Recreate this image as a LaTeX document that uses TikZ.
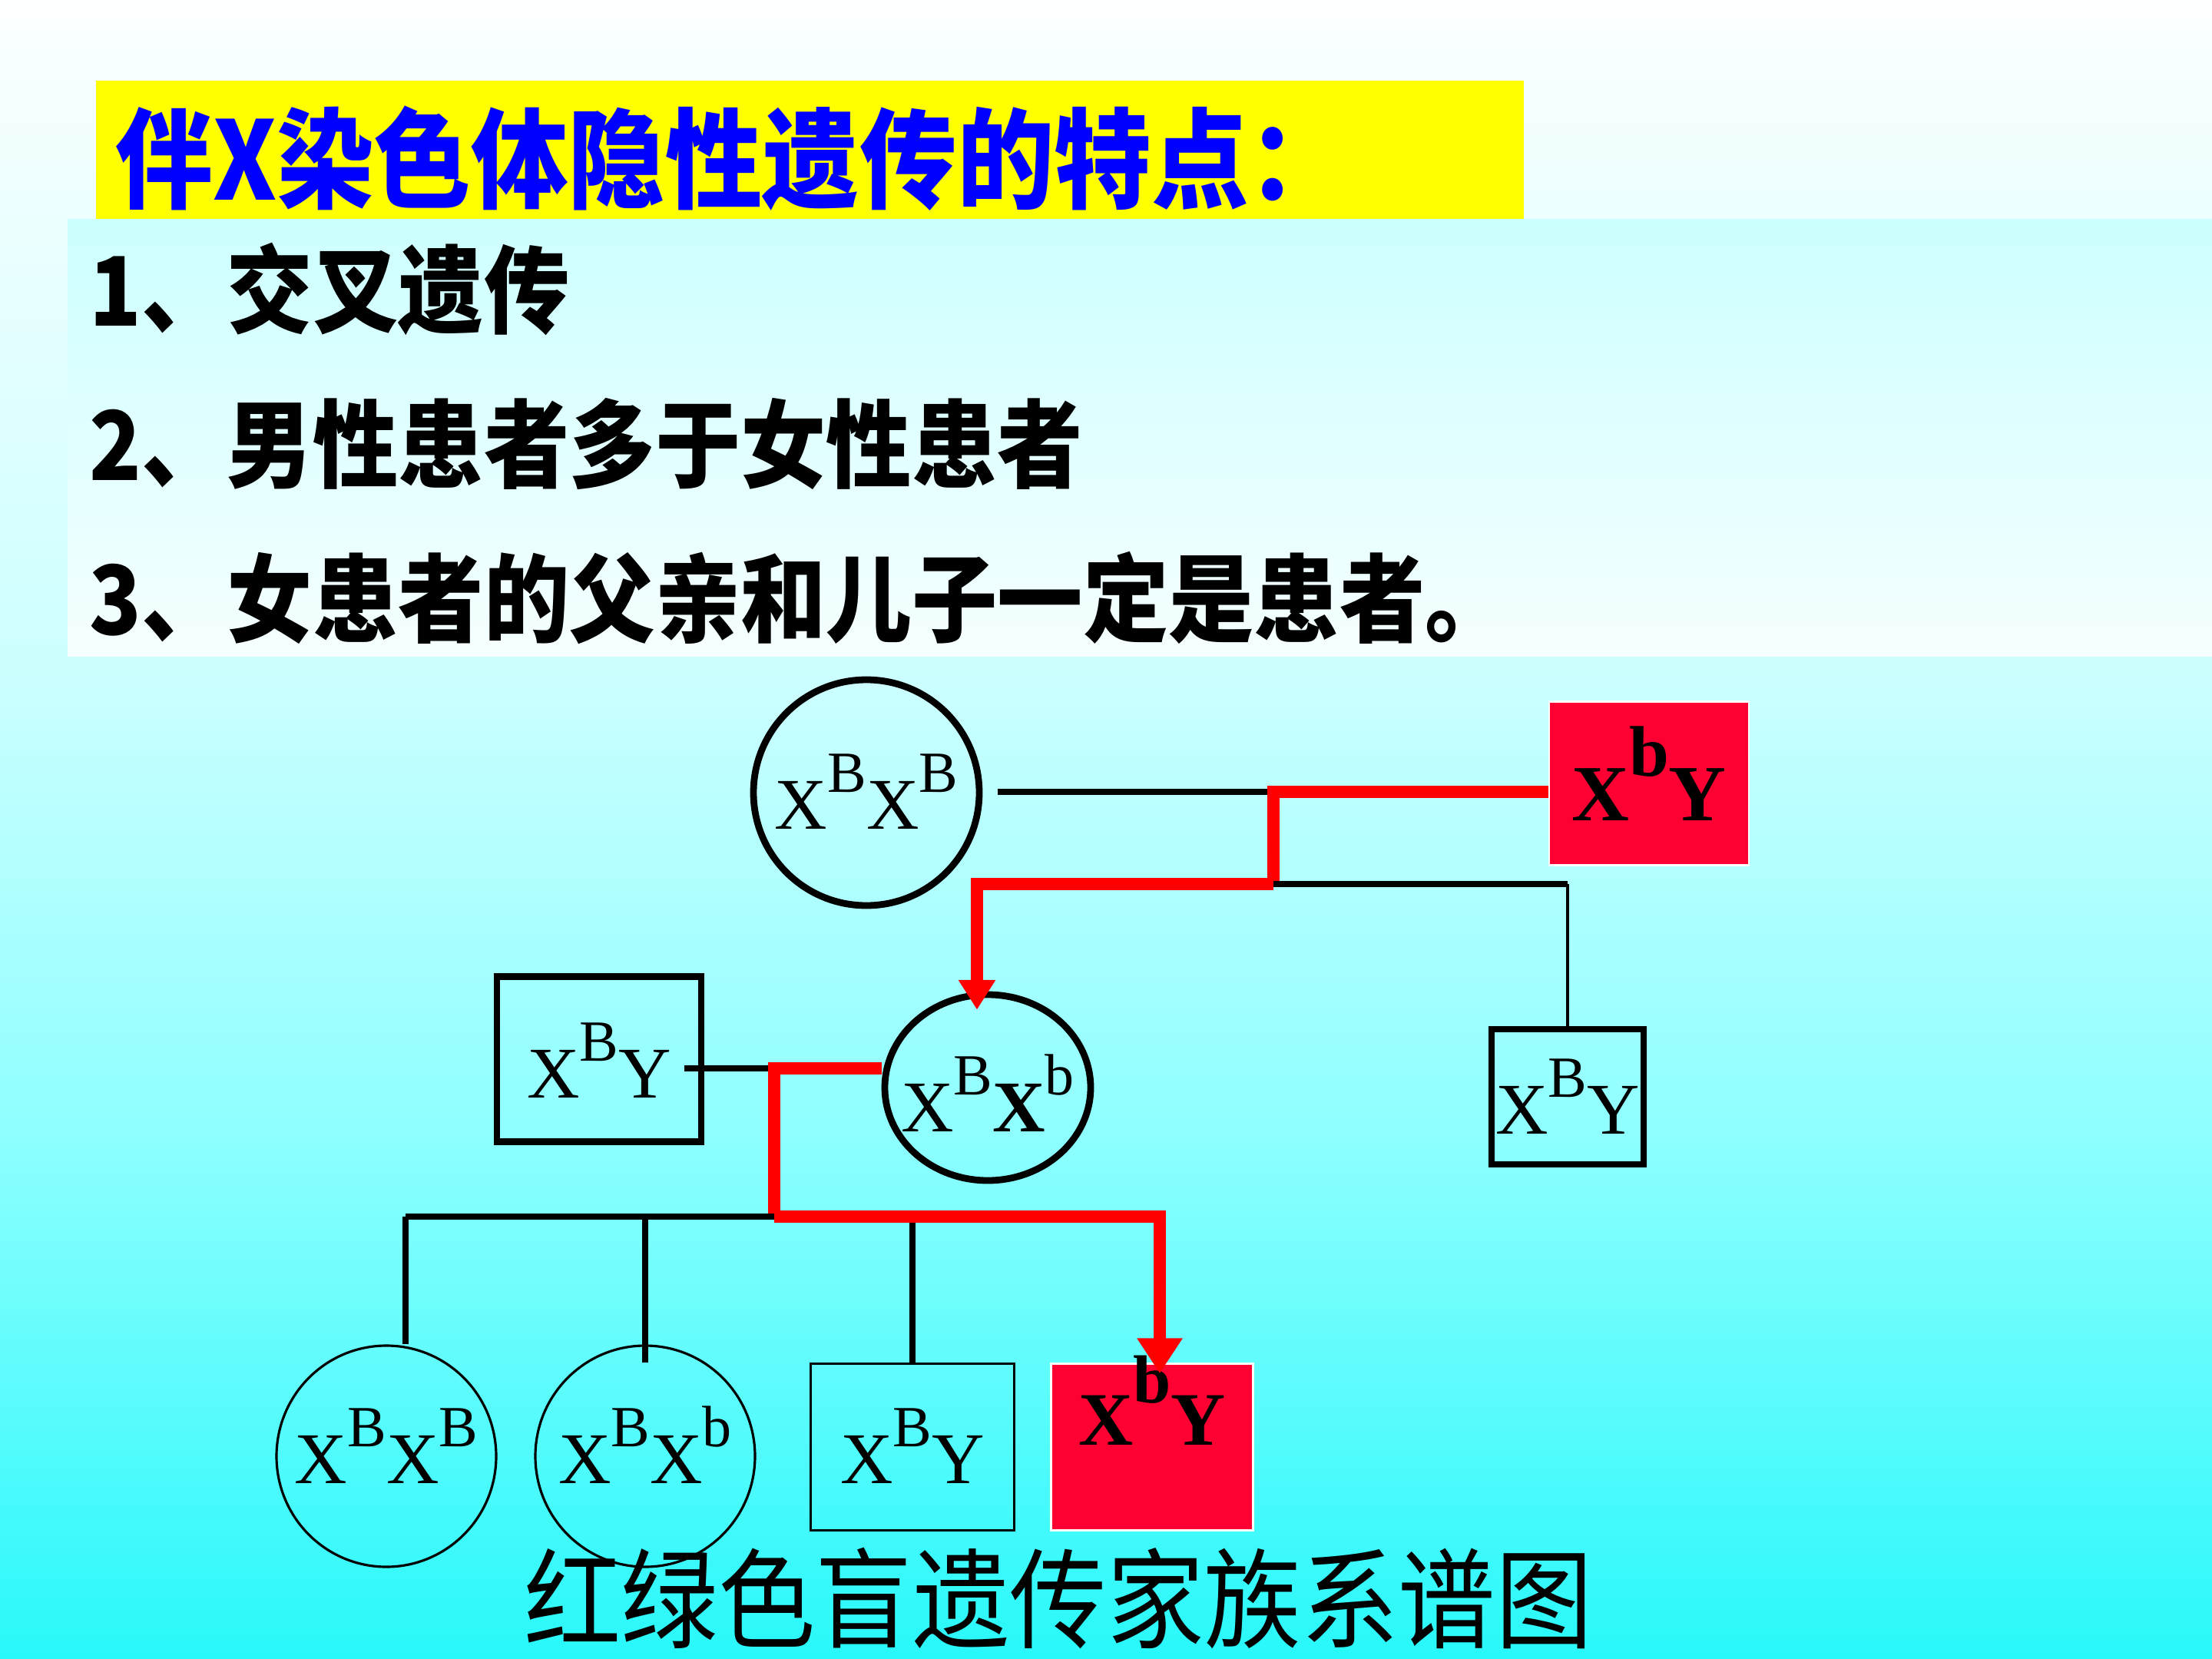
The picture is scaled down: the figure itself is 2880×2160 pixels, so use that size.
\documentclass[tikz,border=0pt]{standalone}
\usepackage{fontspec}
\usepackage{graphicx}
\setmainfont{Liberation Serif}
\newfontfamily\cjk{Noto Sans CJK SC}
\usetikzlibrary{shapes.geometric,arrows.meta}

\definecolor{cybot}{RGB}{40,248,250}
\definecolor{cymid}{RGB}{143,255,255}
\definecolor{cylight}{RGB}{204,255,255}
\definecolor{cytop}{RGB}{252,255,255}
\definecolor{paletop}{RGB}{204,255,255}
\definecolor{palebot}{RGB}{246,255,255}
\definecolor{sickred}{RGB}{255,0,51}
\definecolor{lnred}{RGB}{255,0,0}
\definecolor{titleblue}{RGB}{0,0,255}
\definecolor{hiyellow}{RGB}{255,255,0}

\pgfdeclareverticalshading{bgfade}{100bp}{color(0bp)=(cybot); color(25bp)=(cybot);
  color(41bp)=(cymid); color(54.6bp)=(cylight); color(75bp)=(cytop); color(100bp)=(cytop)}

\newcommand\geno{\fontsize{27}{30}\selectfont}
\newcommand\genob{\fontsize{29.5}{32}\selectfont\bfseries}
\newcommand\gx[1]{X\raisebox{0.5em}{\scalebox{0.8}{#1}}}
\newcommand\gxb[1]{X\raisebox{0.55em}{\scalebox{0.9}{#1}}}
\newcommand\gn[1]{\makebox[0pt]{#1}}
\newcommand\tall[1]{\scalebox{1}[1.12]{#1}}

\begin{document}
\begin{tikzpicture}[x=0.1mm, y=-0.1mm,
    lift/.style={text height=#1, text depth=0pt},
    fem/.style={ellipse, draw, line width=2.5pt, inner sep=0pt, font=\geno},
    femthin/.style={ellipse, draw, line width=0.9pt, inner sep=0pt, font=\geno},
    male/.style={rectangle, draw, line width=2.5pt, inner sep=0pt, font=\geno},
    malethin/.style={rectangle, draw, line width=0.9pt, inner sep=0pt, font=\geno},
    sick/.style={rectangle, fill=sickred, draw=white, line width=0.8pt, inner sep=0pt, font=\genob},
    link/.style={line width=2.5pt},
    thinlink/.style={line width=0.9pt},
    droplink/.style={line width=2.3pt},
    redlink/.style={draw=lnred, line width=4.7pt},
    item/.style={anchor=west, inner sep=0pt, font=\cjk\bfseries\fontsize{31.7}{36}\selectfont}]
  \useasboundingbox (0,0) rectangle (2880,2160);

  % background and heading
  \shade[shading=bgfade] (0,0) rectangle (2880,2160);
  \fill[hiyellow] (125,105) rectangle (1984,285);
  \shade[top color=paletop, bottom color=palebot] (88,285) rectangle (2880,854);

  \node[anchor=west, inner sep=0pt, text=titleblue, font=\cjk\bfseries\fontsize{36}{40}\selectfont]
    (title) at (150,206) {\tall{伴X染色体隐性遗传的特点：}};
  \node[item] (it1) at (116,376) {\tall{1、交叉遗传}};
  \node[item] (it2) at (116,578) {\tall{2、男性患者多于女性患者}};
  \node[item] (it3) at (116,779) {\tall{3、女患者的父亲和儿子一定是患者。}};

  % pedigree
  \node[fem, lift=0.94cm, minimum width=2.94cm, minimum height=2.94cm] (mom1) at (1128,1032) {\gn{\gx{B}\gx{B}}};
  \node[sick, lift=0.96cm, minimum width=2.6cm, minimum height=2.13cm] (dad1) at (2147,1020) {\gxb{b}Y};
  \node[fem, lift=1.14cm, minimum width=2.68cm, minimum height=2.42cm] (mom2) at (1286,1416)
    {\gn{\gx{B}\textbf{X}\raisebox{0.5em}{\scalebox{0.8}{b}}}};
  \node[male, lift=1.0cm, minimum width=2.66cm, minimum height=2.15cm] (dad2) at (780,1379) {\gx{B}Y};
  \node[male, lift=0.96cm, minimum width=1.98cm, minimum height=1.76cm] (son1) at (2041,1428) {\gx{B}Y};
  \node[femthin, lift=0.7cm, minimum width=2.86cm, minimum height=2.88cm] (dau1) at (503,1896) {\gn{\gx{B}\gx{B}}};
  \node[femthin, lift=0.7cm, minimum width=2.86cm, minimum height=2.88cm] (dau2) at (840,1896) {\gn{\gx{B}\gx{b}}};
  \node[malethin, lift=0.94cm, minimum width=2.65cm, minimum height=2.17cm] (son2) at (1188,1884) {\gx{B}Y};
  \node[sick, font=\fontsize{28}{30}\selectfont\bfseries, minimum width=2.63cm, minimum height=2.17cm,
    text height=0pt, text depth=0.06cm] (son3) at (1500,1884) {\gxb{b}Y};

  \coordinate (m1) at (1658,1031);
  \coordinate (s1) at (1658,1151);
  \coordinate (m2) at (1008,1391);
  \coordinate (s2) at (1008,1584);
  \coordinate (b1) at (528,1584);

  \draw[link] ([xshift=0.2cm]m1 -| mom1.east) -- (m1);
  \draw[redlink] (m1 -| dad1.west) -- (m1) -- (s1);
  \draw[link] (s1) -- (s1 -| son1.north);
  \draw[thinlink] (s1 -| son1.north) -- (son1.north);
  \draw[redlink, -{Triangle[length=11pt, width=13pt]}] (s1) -- ([xshift=-0.14cm]s1 -| mom2.north)
    -- ([xshift=-0.14cm, yshift=-0.24cm]mom2.north);

  \draw[link] ([xshift=-0.26cm]m2 -| dad2.east) -- (m2);
  \draw[redlink] (m2 -| mom2.west) -- (m2) -- (s2);
  \draw[link] (b1) -- (s2);
  \draw[droplink] (b1) -- (b1 |- dau1.north);
  \draw[droplink] (s2 -| dau2.north) -- ([yshift=-0.24cm]dau2.north);
  \draw[droplink] (s2 -| son2.north) -- (son2.north);
  \draw[redlink, -{Triangle[length=13pt, width=16pt]}] (s2) -- ([xshift=0.1cm]s2 -| son3.north)
    -- ([xshift=0.1cm, yshift=-0.14cm]son3.north);

  \node[inner sep=0pt, font=\cjk\fontsize{36}{40}\selectfont] (cap) at (1378,2081) {\tall{红绿色盲遗传家族系谱图}};
\end{tikzpicture}
\end{document}
